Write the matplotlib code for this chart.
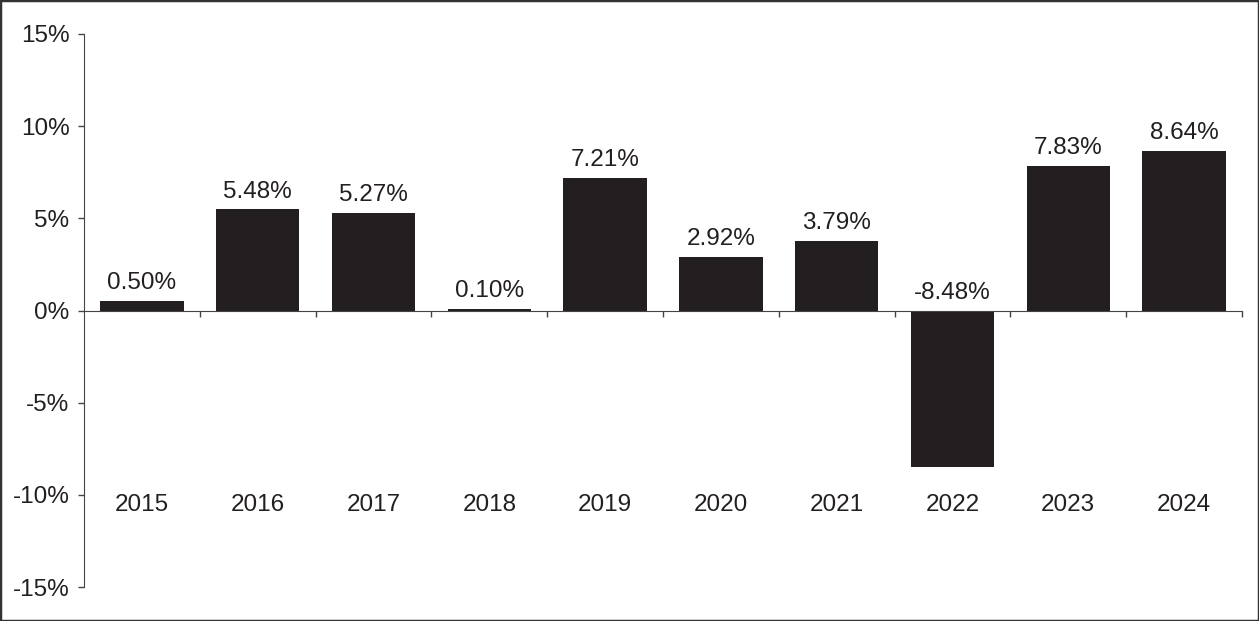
import matplotlib.pyplot as plt
from matplotlib.patches import Rectangle
import numpy as np

years = ["2015", "2016", "2017", "2018", "2019", "2020", "2021", "2022", "2023", "2024"]
returns = [0.50, 5.48, 5.27, 0.10, 7.21, 2.92, 3.79, -8.48, 7.83, 8.64]
y_ticks = [-15, -10, -5, 0, 5, 10, 15]

bar_color = "#231f20"
plt.rcParams["font.family"] = ["Liberation Sans", "DejaVu Sans"]

fig = plt.figure(figsize=(12.59, 6.21), dpi=100)
fig.patches.append(Rectangle((0, 0), 1, 1, transform=fig.transFigure, fill=False,
                             edgecolor="#333333", linewidth=2.5))
ax = fig.add_axes([84 / 1259, 1 - 587 / 621, (1242 - 84) / 1259, (587 - 34) / 621])

x = np.arange(len(years))
ax.bar(x, returns, width=0.72, color=bar_color, zorder=2)

for xi, v in zip(x, returns):
    ax.annotate(f"{v:.2f}%", (xi, max(v, 0)), xytext=(0, 5), textcoords="offset points",
                ha="center", va="bottom", fontsize=17.5, color="#231f20")

ax.set_xlim(-0.5, len(years) - 0.5)
ax.set_ylim(-15, 15)
ax.set_yticks(y_ticks)
ax.set_yticklabels([f"{t}%" for t in y_ticks])

ax.set_xticks(x)
ax.set_xticklabels(years)
ax.set_xticks(np.arange(0.5, len(years) - 0.5 + 0.01, 1), minor=True)
ax.tick_params(axis="x", which="major", length=0, pad=132, labelsize=17.5, labelcolor="#231f20")
ax.tick_params(axis="x", which="minor", length=4.5, width=1, color="#444444", direction="out")
ax.tick_params(axis="y", length=4.5, width=1, color="#444444", pad=6, labelsize=17.5,
               labelcolor="#231f20")

ax.spines["bottom"].set_position(("data", 0))
ax.spines["bottom"].set_color("#444444")
ax.spines["left"].set_color("#444444")
ax.spines["top"].set_visible(False)
ax.spines["right"].set_visible(False)

fig.savefig("out.png", dpi=100)
